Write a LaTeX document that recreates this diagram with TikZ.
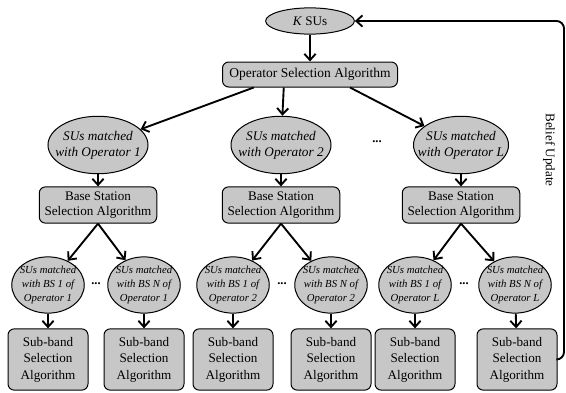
\documentclass[tikz,border=0pt]{standalone}
\usepackage{fontspec}
\setmainfont{Liberation Serif}
\usepackage{tikz}
\usetikzlibrary{shapes.geometric,arrows.meta}

\tikzset{
	algbox/.style={draw, rounded corners=5pt, fill=black!22, line width=0.8pt, align=center, inner sep=1pt},
	suset/.style={draw, ellipse, fill=black!22, line width=0.8pt, align=center, inner sep=-10pt, font=\fontsize{10.6}{13}\selectfont\itshape},
	leafset/.style={suset, font=\fontsize{8.6}{11.5}\selectfont\itshape, minimum width=58pt, minimum height=45pt},
	subbox/.style={algbox, minimum width=64pt, minimum height=49pt, font=\fontsize{10.5}{13.3}\selectfont},
	flow/.style={-{Straight Barb[length=5pt,width=9pt]}, line width=1.5pt},
	gap/.style={font=\bfseries, inner sep=0pt}
}

\begin{document}
\begin{tikzpicture}[x=0.8pt, y=-0.8pt, font=\fontsize{10.5}{12.5}\selectfont]
	\useasboundingbox (0,0) rectangle (566,392);

	% Top: users and operator selection
	\node[suset, font=\fontsize{10.5}{12.5}\selectfont, minimum width=71pt, minimum height=21pt] (ksus) at (310,21) {\textit{K} SUs};
	\node[algbox, minimum width=140pt, minimum height=20pt, font=\fontsize{10.8}{13}\selectfont] (opsel) at (310,74.5) {Operator Selection Algorithm};
	\draw[flow] (ksus) -- (opsel);

	% Operators
	\node[suset, minimum width=80pt, minimum height=46pt] (op1) at (98,145) {SUs matched\\with Operator 1};
	\node[suset, minimum width=80pt, minimum height=46pt] (op2) at (281,145) {SUs matched\\with Operator 2};
	\node[suset, minimum width=76pt, minimum height=46pt] (opL) at (461,145) {SUs matched\\with Operator L};
	\node[gap] (dotsop) at (377,142) {...};
	\draw[flow] ([xshift=-45pt]opsel.south) -- (op1);
	\draw[flow] ([xshift=-21pt]opsel.south) -- (op2);
	\draw[flow] ([xshift=32pt]opsel.south) -- (opL);

	% Base station selection
	\node[algbox, minimum width=94pt, minimum height=29pt] (bs1) at (98,205) {Base Station\\Selection Algorithm};
	\node[algbox, minimum width=94pt, minimum height=29pt] (bs2) at (281,205) {Base Station\\Selection Algorithm};
	\node[algbox, minimum width=94pt, minimum height=29pt] (bsL) at (461,205) {Base Station\\Selection Algorithm};
	\draw[flow] (op1) -- (bs1);
	\draw[flow] (op2) -- (bs2);
	\draw[flow] (opL) -- (bsL);

	% SUs per base station
	\node[leafset] (u11) at (48,285) {SUs matched\\with BS 1 of\\Operator 1};
	\node[leafset] (u1N) at (144,285) {SUs matched\\with BS N of\\Operator 1};
	\node[leafset] (u21) at (233,285) {SUs matched\\with BS 1 of\\Operator 2};
	\node[leafset] (u2N) at (331,285) {SUs matched\\with BS N of\\Operator 2};
	\node[leafset] (uL1) at (415,285) {SUs matched\\with BS 1 of\\Operator L};
	\node[leafset] (uLN) at (515,285) {SUs matched\\with BS N of\\Operator L};
	\node[gap] (dots1) at (96,284) {...};
	\node[gap] (dots2) at (282,284) {...};
	\node[gap] (dotsL) at (464,284) {...};
	\draw[flow] (bs1.south) -- (u11);
	\draw[flow] (bs1.south) -- (u1N);
	\draw[flow] (bs2.south) -- (u21);
	\draw[flow] (bs2.south) -- (u2N);
	\draw[flow] (bsL.south) -- (uL1);
	\draw[flow] (bsL.south) -- (uLN);

	% Sub-band selection
	\node[subbox] (s11) at (48,359.5) {Sub-band\\Selection\\Algorithm};
	\node[subbox] (s1N) at (144,359.5) {Sub-band\\Selection\\Algorithm};
	\node[subbox] (s21) at (233,359.5) {Sub-band\\Selection\\Algorithm};
	\node[subbox] (s2N) at (331,359.5) {Sub-band\\Selection\\Algorithm};
	\node[subbox] (sL1) at (415,359.5) {Sub-band\\Selection\\Algorithm};
	\node[subbox] (sLN) at (517,359.5) {Sub-band\\Selection\\Algorithm};
	\draw[flow] (u11) -- (s11);
	\draw[flow] (u1N) -- (s1N);
	\draw[flow] (u21) -- (s21);
	\draw[flow] (u2N) -- (s2N);
	\draw[flow] (uL1) -- (sL1);
	\draw[flow] (uLN) -- (sLN);

	% Feedback loop
	\coordinate (fbtop) at (564,21);
	\draw[flow, rounded corners=6pt] (sLN.east) -| (fbtop) -- (ksus.east);
	\node[rotate=-90] (belief) at (549,150) {Belief Update};
\end{tikzpicture}
\end{document}
